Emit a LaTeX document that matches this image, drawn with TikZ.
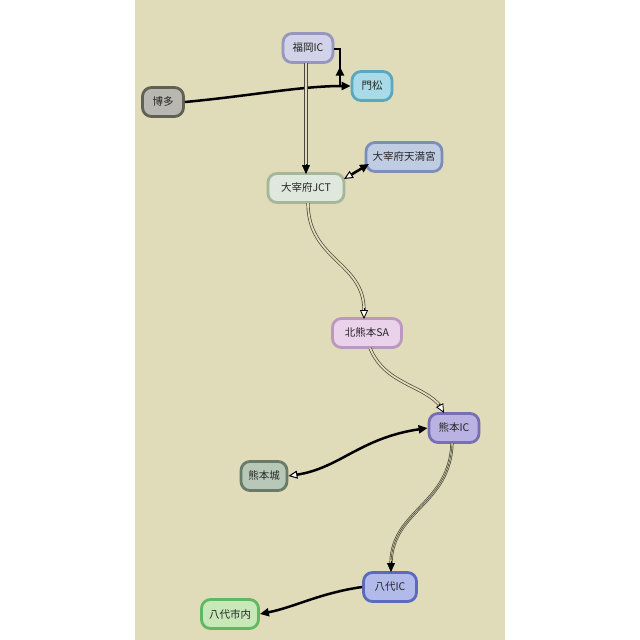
\documentclass[tikz,border=0pt]{standalone}
\usepackage{fontspec}
\setmainfont{Noto Sans CJK JP}
\usetikzlibrary{arrows.meta,decorations.markings}
\definecolor{bgbeige}{HTML}{E0DBB8}
\definecolor{dline}{HTML}{4A463A}
\tikzset{
  stn/.style={draw, line width=2.8pt, rounded corners=9pt, minimum height=29pt, inner xsep=6pt, font=\fontsize{10.5}{12}\selectfont, text=black!85},
  bold/.style={line width=2.5pt, black},
  dbl/.style={draw=dline, line width=0.7pt, double=bgbeige, double distance=1.8pt},
  fh/.style={-{Triangle[length=9pt,width=8pt]}},
}
\begin{document}
\begin{tikzpicture}[x=1pt,y=-1pt]
\useasboundingbox (0,0) rectangle (640,640);
\fill[white] (0,0) rectangle (640,640);
\fill[bgbeige] (135,0) rectangle (505,640);

\node[stn, fill={rgb,255:red,210;green,210;blue,232}, draw={rgb,255:red,150;green,150;blue,190}, minimum width=50pt] (fukuoka) at (308,48) {福岡IC};
\node[stn, fill={rgb,255:red,168;green,218;blue,232}, draw={rgb,255:red,90;green,168;blue,190}, minimum width=40pt] (kadomatsu) at (372,86) {門松};
\node[stn, fill={rgb,255:red,184;green,184;blue,176}, draw={rgb,255:red,96;green,96;blue,84}, minimum width=41pt] (hakata) at (163,102) {博多};
\node[stn, fill={rgb,255:red,192;green,204;blue,226}, draw={rgb,255:red,122;green,142;blue,184}, minimum width=76pt] (tenmangu) at (404,157) {大宰府天満宮};
\node[stn, fill={rgb,255:red,222;green,232;blue,220}, draw={rgb,255:red,166;green,182;blue,154}, minimum width=76pt] (jct) at (306,188) {大宰府JCT};
\node[stn, fill={rgb,255:red,234;green,210;blue,234}, draw={rgb,255:red,186;green,152;blue,192}, minimum width=69pt] (kitakuma) at (367,333) {北熊本SA};
\node[stn, fill={rgb,255:red,186;green,178;blue,226}, draw={rgb,255:red,120;green,110;blue,182}, minimum width=50pt] (kumaic) at (454,428) {熊本IC};
\node[stn, fill={rgb,255:red,184;green,200;blue,184}, draw={rgb,255:red,106;green,122;blue,104}, minimum width=46pt] (kumajo) at (264,476) {熊本城};
\node[stn, fill={rgb,255:red,178;green,186;blue,234}, draw={rgb,255:red,90;green,106;blue,192}, minimum width=53pt] (yatsuic) at (390,587) {八代IC};
\node[stn, fill={rgb,255:red,200;green,232;blue,184}, draw={rgb,255:red,96;green,184;blue,96}, minimum width=57pt] (yatsushi) at (230,614) {八代市内};

\coordinate (c1) at (340,87);
\coordinate (c2) at (340,49);
\coordinate (j1) at (344,179);
\coordinate (t1) at (369,164);
\coordinate (k0) at (439,404);
\coordinate (k1) at (444,413);
\coordinate (f0) at (306,164);
\coordinate (f1) at (306,174);
\coordinate (s0) at (364,308);
\coordinate (s1) at (364,319);
\coordinate (y0) at (391,561);
\coordinate (y1) at (391,572);

% 博多 -> 門松
\draw[bold, fh] (hakata.east) .. controls (250,96) and (300,86) .. (kadomatsu.west);
% 門松 -> 福岡IC
\draw[bold, postaction={decorate}, decoration={markings, mark=at position 0.47 with {\arrow{Triangle[length=9pt,width=8pt]}}}]
  (c1) -- (c2) -- (fukuoka.east |- c2);
% 福岡IC -> 大宰府JCT
\draw[dbl] (306,63) -- (306,166);
\draw[black, -{Triangle[length=9pt,width=8pt]}] (f0) -- (f1);
% 大宰府JCT <-> 天満宮
\draw[bold, {Triangle[open,fill=white,length=9pt,width=8pt,line width=1pt]}-{Triangle[length=9pt,width=8pt]}] (j1) -- (t1);
% JCT -> 北熊本SA
\draw[dbl] (308,203) .. controls (308,260) and (364,262) .. (364,310);
\draw[black, line width=0.8pt, -{Triangle[open,fill=white,length=9pt,width=8pt]}] (s0) -- (s1);
% 北熊本SA -> 熊本IC
\draw[dbl] (370,348) .. controls (385,385) and (425,385) .. (441,407);
\draw[black, line width=0.8pt, -{Triangle[open,fill=white,length=9pt,width=8pt]}] (k0) -- (k1);
% 熊本IC -> 八代IC (triple)
\draw[dbl] (452,443) .. controls (450,505) and (392,510) .. (391,563);
\draw[dline, line width=0.6pt] (452,443) .. controls (450,505) and (392,510) .. (391,563);
\draw[black, -{Triangle[length=9pt,width=8pt]}] (y0) -- (y1);
% 熊本IC <-> 熊本城
\draw[bold, {Triangle[open,fill=white,length=9pt,width=8pt,line width=1pt]}-{Triangle[length=9pt,width=8pt]}] (kumajo.east) .. controls (340,468) and (360,438) .. (kumaic.west);
% 八代IC -> 八代市内
\draw[bold, fh] (yatsuic.west) .. controls (320,593) and (295,607) .. (yatsushi.east);
\end{tikzpicture}
\end{document}
